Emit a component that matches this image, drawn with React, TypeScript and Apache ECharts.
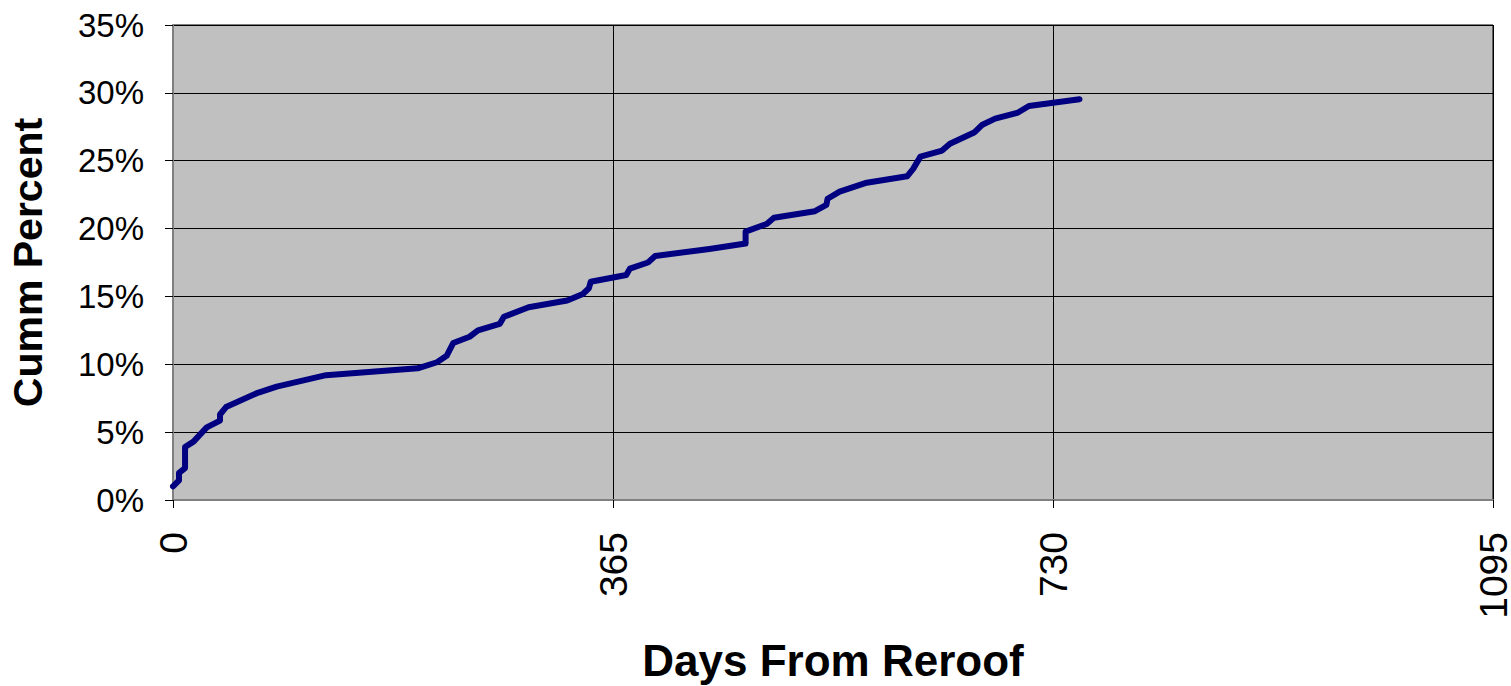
import React, { useEffect, useRef } from "react";
import * as echarts from "echarts";

const days: number[] = [0, 5, 5, 10, 10, 17, 28, 39, 39, 44, 69, 86, 127, 203, 219, 227, 232.5, 246, 253, 271, 274.5, 295, 327, 340, 345, 346.5, 376, 379, 394, 400, 445, 475, 475, 492.5, 498.5, 532.5, 542, 543, 553, 575.5, 609, 614, 620, 638, 644.5, 665, 671, 682, 701, 710, 752];
const cummPct: number[] = [1.0, 1.45, 2.0, 2.35, 3.9, 4.3, 5.35, 5.85, 6.3, 6.85, 7.85, 8.35, 9.2, 9.7, 10.15, 10.62, 11.57, 12.03, 12.5, 12.97, 13.5, 14.2, 14.7, 15.18, 15.6, 16.08, 16.58, 17.05, 17.5, 17.98, 18.5, 18.9, 19.78, 20.34, 20.8, 21.28, 21.74, 22.2, 22.72, 23.38, 23.85, 24.4, 25.3, 25.75, 26.25, 27.1, 27.63, 28.1, 28.55, 29.03, 29.53];
const xTicks: number[] = [0, 365, 730, 1095];
const yTicks: number[] = [0, 5, 10, 15, 20, 25, 30, 35];

export default function App() {
  const ref = useRef<HTMLDivElement>(null);
  useEffect(() => {
    document.body.style.margin = "0";
    if (!ref.current) return;
    const chart = echarts.init(ref.current, null, { renderer: "svg" });
    const font = "'Liberation Sans', Arial, sans-serif";
    chart.setOption({
      animation: false,
      backgroundColor: "#ffffff",
      grid: {
        left: 173,
        top: 25,
        right: 18,
        bottom: 186,
        containLabel: false,
        outerBoundsMode: "none",
        show: true,
        backgroundColor: "#c0c0c0",
        borderColor: "#000000",
        borderWidth: 1,
      },
      xAxis: {
        type: "value",
        min: xTicks[0],
        max: xTicks[xTicks.length - 1],
        interval: 365,
        name: "Days From Reroof",
        nameLocation: "middle",
        nameGap: 138,
        nameTextStyle: { fontFamily: font, fontWeight: "bold", fontSize: 44, color: "#000" },
        axisLine: { show: true, onZero: false, lineStyle: { color: "#808080", width: 2 } },
        axisTick: { show: true, inside: false, length: 8, lineStyle: { color: "#000" } },
        axisLabel: { rotate: 90, margin: 32, fontFamily: font, fontSize: 39, color: "#000", formatter: (v: number) => String(v) },
        splitLine: { show: true, lineStyle: { color: "#000", width: 1 } },
      },
      yAxis: {
        type: "value",
        min: yTicks[0],
        max: yTicks[yTicks.length - 1],
        interval: 5,
        name: "Cumm Percent",
        nameLocation: "middle",
        nameGap: 125,
        nameRotate: 90,
        nameTextStyle: { fontFamily: font, fontWeight: "bold", fontSize: 41, color: "#000" },
        axisLine: { show: true, onZero: false, lineStyle: { color: "#808080", width: 2 } },
        axisTick: { show: true, inside: false, length: 8, lineStyle: { color: "#000" } },
        axisLabel: { margin: 29, fontFamily: font, fontSize: 33, color: "#000", formatter: (v: number) => v + "%" },
        splitLine: { show: true, lineStyle: { color: "#000", width: 1 } },
      },
      series: [
        {
          type: "line",
          data: days.map((d, i) => [d, cummPct[i]]),
          showSymbol: false,
          symbol: "none",
          lineStyle: { color: "#000080", width: 6, cap: "round", join: "round" },
        },
      ],
    });
    return () => chart.dispose();
  }, []);
  return <div ref={ref} style={{ width: 1511, height: 686 }} />;
}
